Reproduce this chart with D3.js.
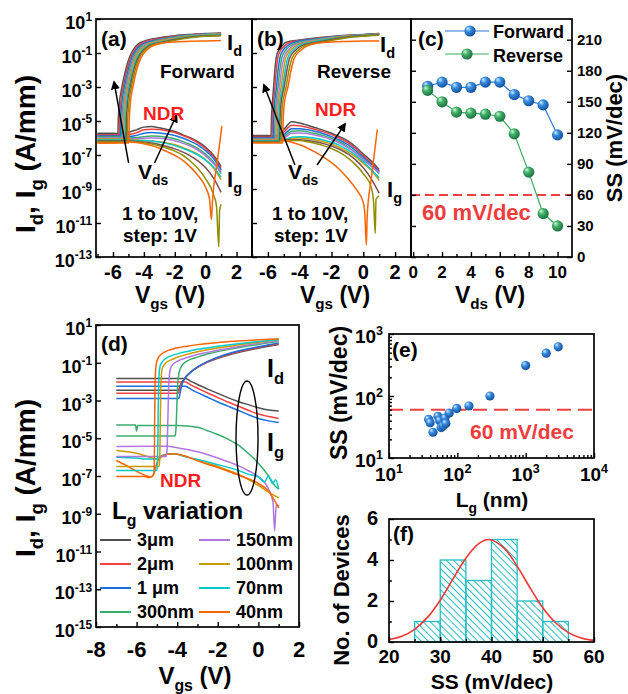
<!DOCTYPE html>
<html><head><meta charset="utf-8">
<script src="https://cdn.jsdelivr.net/npm/d3@7"></script>
<style>
body{margin:0;background:#fff}
text{font-family:"Liberation Sans",Arial,sans-serif;font-weight:bold}
</style></head><body>
<svg id="fig" width="628" height="694"></svg>
<script>
// ---------------- DATA ----------------
const palette = ["#505050","#F14040","#1A6FDF","#37AD6B","#B177DE","#CC9900","#00CBCC","#7D4E4E","#8E8E00","#FB6501"];
const vgsGrid = [-7,-6.5,-6,-5.5,-5,-4.5,-4,-3.5,-3,-2.5,-2,-1.5,-1,-0.5,0,0.5,1];

// (a) forward sweep, log10(Id) vs Vgs, one curve per Vds
const fwdId = [
 [[-7,-5.75],[-5.68,-5.75],[-5.66,-5],[-5.59,-4],[-5.42,-3],[-5.18,-2],[-4.95,-1.3],[-4.71,-0.85],[-4.46,-0.55],[-4.21,-0.38],[-3,-0.1],[-2,0.02],[-1,0.09],[0,0.14],[1,0.17]],
 [[-7,-5.82],[-5.6,-5.82],[-5.58,-5],[-5.51,-4],[-5.34,-3],[-5.10,-2],[-4.87,-1.3],[-4.61,-0.85],[-4.34,-0.55],[-4.01,-0.38],[-3,-0.15],[-2,-0.01],[-1,0.08],[0,0.13],[1,0.16]],
 [[-7,-5.88],[-5.52,-5.88],[-5.5,-5],[-5.43,-4],[-5.26,-3],[-5.02,-2],[-4.78,-1.3],[-4.52,-0.85],[-4.21,-0.55],[-3.82,-0.38],[-3,-0.2],[-2,-0.04],[-1,0.06],[0,0.12],[1,0.15]],
 [[-7,-5.94],[-5.44,-5.94],[-5.42,-5],[-5.35,-4],[-5.18,-3],[-4.94,-2],[-4.70,-1.3],[-4.42,-0.85],[-4.09,-0.55],[-3.62,-0.38],[-3,-0.24],[-2,-0.07],[-1,0.04],[0,0.1],[1,0.14]],
 [[-7,-6.0],[-5.37,-6.0],[-5.35,-5],[-5.28,-4],[-5.11,-3],[-4.87,-2],[-4.62,-1.3],[-4.33,-0.85],[-3.97,-0.55],[-3.43,-0.38],[-3,-0.28],[-2,-0.1],[-1,0.02],[0,0.08],[1,0.12]],
 [[-7,-6.06],[-5.3,-6.06],[-5.28,-5],[-5.21,-4],[-5.04,-3],[-4.80,-2],[-4.55,-1.3],[-4.25,-0.85],[-3.86,-0.55],[-3.25,-0.38],[-2,-0.13],[-1,0],[0,0.06],[1,0.1]],
 [[-7,-6.12],[-5.22,-6.12],[-5.2,-5],[-5.13,-4],[-4.96,-3],[-4.72,-2],[-4.46,-1.3],[-4.15,-0.85],[-3.73,-0.55],[-3.05,-0.38],[-2,-0.17],[-1,-0.03],[0,0.04],[1,0.08]],
 [[-7,-6.18],[-5.15,-6.18],[-5.13,-5],[-5.06,-4],[-4.89,-3],[-4.65,-2],[-4.39,-1.3],[-4.06,-0.85],[-3.62,-0.55],[-2.86,-0.38],[-2,-0.21],[-1,-0.06],[0,0.01],[1,0.05]],
 [[-7,-6.24],[-5.07,-6.24],[-5.05,-5],[-4.98,-4],[-4.81,-3],[-4.57,-2],[-4.30,-1.3],[-3.97,-0.85],[-3.49,-0.55],[-2.67,-0.38],[-2,-0.25],[-1,-0.1],[0,-0.02],[1,0.02]],
 [[-7,-6.3],[-4.97,-6.3],[-4.95,-5],[-4.88,-4],[-4.71,-3],[-4.47,-2],[-4.2,-1.3],[-3.85,-0.85],[-3.35,-0.55],[-2.45,-0.38],[-2,-0.35],[-1,-0.31],[0,-0.29],[1,-0.27]]
];
// (a) log10(Ig) read on vgsGrid
const fwdIg = [
 [-5.72,-5.72,-5.72,-5.74,-5.66,-5.52,-5.36,-5.33,-5.4,-5.5,-5.62,-5.8,-5.98,-6.22,-6.55,-7.0,-7.68],
 [-5.8,-5.8,-5.8,-5.82,-5.8,-5.7,-5.52,-5.48,-5.5,-5.58,-5.68,-5.85,-6.03,-6.28,-6.62,-7.08,-7.8],
 [-5.86,-5.86,-5.87,-5.88,-5.9,-5.85,-5.72,-5.68,-5.7,-5.76,-5.85,-6.0,-6.18,-6.42,-6.75,-7.2,-7.9],
 [-5.92,-5.92,-5.93,-5.95,-5.98,-5.98,-5.92,-5.88,-5.9,-5.96,-6.05,-6.2,-6.38,-6.62,-6.95,-7.4,-8.1],
 [-5.98,-5.98,-5.99,-6.0,-6.03,-6.05,-6.02,-6.0,-6.02,-6.08,-6.16,-6.3,-6.48,-6.72,-7.05,-7.5,-8.0],
 [-6.05,-6.05,-6.05,-6.06,-6.08,-6.12,-6.15,-6.18,-6.22,-6.3,-6.4,-6.55,-6.73,-6.96,-7.28,-7.75,-8.45],
 [-6.1,-6.1,-6.1,-6.1,-6.12,-6.15,-6.15,-6.18,-6.24,-6.33,-6.45,-6.6,-6.78,-7.0,-7.3,-7.7,-8.3],
 [-6.14,-6.14,-6.14,-6.14,-6.16,-6.2,-6.24,-6.3,-6.38,-6.5,-6.64,-6.82,-7.05,-7.35,-7.75,-8.35,-9.2],
 [-6.2,-6.2,-6.2,-6.2,-6.2,-6.24,-6.28,-6.36,-6.46,-6.6,-6.77,-7.0,-7.35,-7.8,-8.4,-9.3],
 [-6.3,-6.3,-6.28,-6.25,-6.22,-6.26,-6.34,-6.45,-6.6,-6.8,-7.02,-7.3,-7.7,-8.2,-8.9]
];
const fwdIgTailOlive = [[0.7,-10.0],[0.85,-12.4],[0.9,-10.3],[1,-9.9]];
const fwdIgTailOrange = [[0.25,-9.6],[0.37,-10.8],[0.45,-9.6],[0.75,-7.4],[1.05,-5.3]];

// (b) reverse sweep
const revId = [
 [[-7,-5.9],[-5.8,-5.9],[-5.78,-5],[-5.72,-4],[-5.64,-3],[-5.56,-2],[-5.48,-1.3],[-5.33,-0.85],[-5.08,-0.55],[-4.88,-0.38],[-4,-0.24],[-3,-0.12],[-2,-0.03],[-1,0.04],[0,0.09],[1,0.14]],
 [[-7,-5.95],[-5.74,-5.95],[-5.72,-5],[-5.66,-4],[-5.56,-3],[-5.47,-2],[-5.38,-1.3],[-5.20,-0.85],[-4.92,-0.55],[-4.63,-0.38],[-4,-0.27],[-3,-0.14],[-2,-0.05],[-1,0.03],[0,0.08],[1,0.14]],
 [[-7,-6.0],[-5.66,-6.0],[-5.64,-5],[-5.58,-4],[-5.46,-3],[-5.36,-2],[-5.25,-1.3],[-5.05,-0.85],[-4.74,-0.55],[-4.36,-0.38],[-3,-0.17],[-2,-0.06],[-1,0.02],[0,0.07],[1,0.13]],
 [[-7,-6.04],[-5.58,-6.04],[-5.56,-5],[-5.50,-4],[-5.37,-3],[-5.25,-2],[-5.13,-1.3],[-4.89,-0.85],[-4.56,-0.55],[-4.09,-0.38],[-3,-0.21],[-2,-0.08],[-1,0.01],[0,0.06],[1,0.12]],
 [[-7,-6.08],[-5.5,-6.08],[-5.48,-5],[-5.42,-4],[-5.27,-3],[-5.14,-2],[-5.00,-1.3],[-4.74,-0.85],[-4.38,-0.55],[-3.82,-0.38],[-3,-0.25],[-2,-0.1],[-1,0],[0,0.05],[1,0.11]],
 [[-7,-6.12],[-5.42,-6.12],[-5.40,-5],[-5.34,-4],[-5.17,-3],[-5.02,-2],[-4.88,-1.3],[-4.59,-0.85],[-4.20,-0.55],[-3.56,-0.38],[-3,-0.29],[-2,-0.13],[-1,-0.02],[0,0.04],[1,0.1]],
 [[-7,-6.16],[-5.34,-6.16],[-5.32,-5],[-5.26,-4],[-5.07,-3],[-4.91,-2],[-4.75,-1.3],[-4.44,-0.85],[-4.02,-0.55],[-3.29,-0.38],[-2,-0.16],[-1,-0.04],[0,0.03],[1,0.09]],
 [[-7,-6.2],[-5.26,-6.2],[-5.24,-5],[-5.18,-4],[-4.98,-3],[-4.80,-2],[-4.63,-1.3],[-4.28,-0.85],[-3.84,-0.55],[-3.02,-0.38],[-2,-0.2],[-1,-0.06],[0,0.01],[1,0.07]],
 [[-7,-6.25],[-5.16,-6.25],[-5.14,-5],[-5.08,-4],[-4.86,-3],[-4.67,-2],[-4.48,-1.3],[-4.11,-0.85],[-3.64,-0.55],[-2.73,-0.38],[-2,-0.26],[-1,-0.1],[0,-0.01],[1,0.05]],
 [[-7,-6.3],[-5.06,-6.3],[-5.04,-5],[-4.97,-4],[-4.74,-3],[-4.54,-2],[-4.34,-1.3],[-3.94,-0.85],[-3.44,-0.55],[-2.44,-0.38],[-2,-0.35],[-1,-0.32],[0,-0.3],[1,-0.29]]
];
const revIg = [
 [-5.85,-5.85,-5.86,-5.88,-5.5,-5.05,-5.12,-5.25,-5.4,-5.55,-5.72,-5.92,-6.15,-6.5,-6.95,-7.35,-7.85],
 [-5.9,-5.9,-5.91,-5.93,-5.65,-5.25,-5.28,-5.38,-5.5,-5.64,-5.8,-6.0,-6.25,-6.6,-7.05,-7.45,-7.95],
 [-5.95,-5.95,-5.96,-5.98,-5.8,-5.45,-5.45,-5.52,-5.62,-5.75,-5.92,-6.12,-6.38,-6.72,-7.15,-7.55,-8.0],
 [-6.0,-6.0,-6.0,-6.02,-5.92,-5.6,-5.58,-5.64,-5.74,-5.86,-6.02,-6.22,-6.5,-6.85,-7.25,-7.65,-8.1],
 [-6.02,-6.02,-6.03,-6.05,-6.0,-5.72,-5.7,-5.75,-5.84,-5.95,-6.1,-6.3,-6.55,-6.88,-7.3,-7.65,-8.05],
 [-6.05,-6.05,-6.06,-6.08,-6.08,-6.0,-6.0,-6.05,-6.12,-6.22,-6.35,-6.55,-6.8,-7.1,-7.5,-7.9,-8.5],
 [-6.08,-6.08,-6.09,-6.1,-6.1,-5.95,-5.92,-5.96,-6.02,-6.12,-6.25,-6.43,-6.68,-7.0,-7.4,-7.85,-8.35],
 [-6.1,-6.1,-6.11,-6.12,-6.12,-6.1,-6.1,-6.15,-6.22,-6.33,-6.47,-6.66,-6.92,-7.27,-7.75,-8.4,-9.25],
 [-6.12,-6.12,-6.13,-6.14,-6.14,-6.14,-6.15,-6.22,-6.32,-6.45,-6.62,-6.85,-7.15,-7.55,-8.1,-8.9],
 [-6.0,-6.02,-6.05,-6.1,-6.15,-6.25,-6.4,-6.6,-6.85,-7.12,-7.45,-7.85,-8.35,-8.95,-9.8]
];
const revIgTailOlive = [[0.65,-9.8],[0.75,-11.6],[0.8,-9.6],[1,-9.4]];
const revIgTailOrange = [[0.1,-10.5],[0.19,-12.3],[0.25,-10.5],[0.5,-8.4],[0.88,-5.5]];

// (c) SS vs Vds
const vdsValues = [1,2,3,4,5,6,7,8,9,10];
const ssForward = [165,169,164,164,169,169,157,151,147,118];
const ssReverse = [161,150,140,139,138,136,119,82,42,30];

// (d) Lg variation
const lgNames = ["3\u03bcm","2\u03bcm","1 \u03bcm","300nm","150nm","100nm","70nm","40nm"];
const lgColors = ["#505050","#F14040","#1A6FDF","#37AD6B","#B177DE","#CC9900","#00CBCC","#FB6501"];
const lgId = [
 [[-7,-2.46],[-3.95,-2.46],[-3.85,-2.2],[-3.72,-1.95],[-3.55,-1.72],[-3.3,-1.47],[-3,-1.25],[-2.5,-0.97],[-2,-0.76],[-1.5,-0.6],[-1,-0.46],[-0.5,-0.34],[0,-0.23],[0.5,-0.12],[1,-0.03]],
 [[-7,-2.61],[-3.95,-2.61],[-3.85,-2.3],[-3.72,-1.98],[-3.55,-1.72],[-3.3,-1.46],[-3,-1.23],[-2.5,-0.95],[-2,-0.73],[-1.5,-0.56],[-1,-0.42],[-0.5,-0.3],[0,-0.19],[0.5,-0.08],[1,0.01]],
 [[-7,-2.89],[-3.92,-2.89],[-3.85,-2.55],[-3.75,-2.1],[-3.6,-1.8],[-3.3,-1.47],[-3,-1.22],[-2.5,-0.93],[-2,-0.7],[-1.5,-0.52],[-1,-0.38],[-0.5,-0.26],[0,-0.15],[0.5,-0.05],[1,0.05]],
 [[-7,-4.88],[-4.1,-4.88],[-4.06,-4.5],[-4.02,-3.4],[-3.98,-2.2],[-3.9,-1.5],[-3.75,-1.12],[-3.5,-0.9],[-3,-0.7],[-2.5,-0.54],[-2,-0.41],[-1,-0.21],[0,-0.03],[1,0.12]],
 [[-7,-5.97],[-4.55,-5.97],[-4.5,-5.6],[-4.46,-4.0],[-4.42,-2.3],[-4.36,-1.45],[-4.25,-1.13],[-4,-0.93],[-3.5,-0.72],[-3,-0.56],[-2,-0.34],[-1,-0.15],[0,0.02],[1,0.16]],
 [[-7,-6.5],[-4.9,-6.5],[-4.86,-6.1],[-4.83,-4.0],[-4.8,-2.0],[-4.74,-1.3],[-4.6,-1.05],[-4.3,-0.85],[-4,-0.71],[-3.5,-0.55],[-3,-0.42],[-2,-0.22],[-1,-0.06],[0,0.09],[1,0.2]],
 [[-7,-6.71],[-5.0,-6.71],[-4.97,-6.3],[-4.94,-4.0],[-4.91,-2.0],[-4.85,-1.2],[-4.7,-0.9],[-4.4,-0.68],[-4,-0.53],[-3.5,-0.4],[-3,-0.29],[-2,-0.13],[-1,0.01],[0,0.13],[1,0.23]],
 [[-7,-7.03],[-5.6,-7.03],[-5.4,-7.08],[-5.2,-7.0],[-5.13,-6.6],[-5.11,-4.0],[-5.09,-2.0],[-5.03,-1.05],[-4.9,-0.68],[-4.6,-0.42],[-4.2,-0.27],[-3.5,-0.12],[-3,-0.04],[-2,0.07],[-1,0.15],[0,0.22],[1,0.27]]
];
const lgIg = [
 [[-7,-1.84],[-3.6,-1.84],[-3.3,-2.0],[-3,-2.15],[-2.5,-2.4],[-2,-2.62],[-1.5,-2.85],[-1,-3.05],[-0.5,-3.22],[0,-3.38],[0.5,-3.5],[1,-3.55]],
 [[-7,-2.02],[-3.6,-2.02],[-3.3,-2.2],[-3,-2.35],[-2.5,-2.6],[-2,-2.85],[-1.5,-3.08],[-1,-3.3],[-0.5,-3.52],[0,-3.72],[0.5,-3.85],[1,-3.95]],
 [[-7,-2.25],[-3.6,-2.25],[-3.3,-2.42],[-3,-2.58],[-2.5,-2.83],[-2,-3.08],[-1.5,-3.3],[-1,-3.52],[-0.5,-3.75],[0,-3.95],[0.5,-4.08],[1,-4.16]],
 [[-7,-4.3],[-6.05,-4.3],[-6.0,-4.62],[-5.95,-4.32],[-4,-4.32],[-3,-4.42],[-2.5,-4.6],[-2,-4.8],[-1.5,-5.05],[-1,-5.35],[-0.5,-5.8],[0,-6.32],[0.5,-7.0],[0.8,-7.5],[1,-7.7]],
 [[-7,-5.44],[-4.5,-5.42],[-4,-5.5],[-3.5,-5.6],[-3,-5.72],[-2,-6.05],[-1,-6.45],[-0.5,-6.72],[0,-7.03],[0.5,-7.7],[0.72,-8.4],[0.8,-9.9],[0.88,-8.5],[1,-8.6]],
 [[-7,-5.65],[-6,-5.8],[-5.5,-5.95],[-5,-6.1],[-4.8,-6.0],[-4.5,-5.85],[-4.2,-5.82],[-3.5,-6.0],[-3,-6.15],[-2,-6.5],[-1,-6.9],[0,-7.5],[0.5,-7.85],[1,-8.15]],
 [[-7,-6.0],[-6,-6.05],[-5.5,-6.1],[-5,-6.1],[-4.8,-5.95],[-4.5,-5.85],[-4.2,-5.82],[-3.5,-6.0],[-3,-6.12],[-2,-6.4],[-1,-6.7],[-0.5,-6.9],[0,-7.05],[0.3,-7.3],[0.5,-7.0],[0.7,-7.4],[0.85,-7.2],[1,-7.7]],
 [[-7,-6.18],[-6.5,-6.45],[-6,-6.75],[-5.5,-7.0],[-5.3,-7.05],[-5.15,-6.9],[-5.0,-6.3],[-4.8,-6.0],[-4.5,-5.85],[-4.2,-5.82],[-3.5,-5.98],[-3,-6.2],[-2,-6.55],[-1,-6.95],[0,-7.4],[0.5,-7.8],[0.8,-8.3],[1,-8.7]]
];

// (e) SS vs Lg
const lgNm = [38,40,44,52,55,58,62,66,68,76,98,148,300,1000,2000,3000];
const ssScatter = [42,37,26,47,40,31,33,44,36,53,63,69,100,310,490,620];

// (f) histogram
const binStart = [25,30,35,40,45,50];
const binCount = [1,4,3,5,2,1];
const fitSS = [20,22.5,25,27.5,30,32.5,35,37.5,39.5,42.5,45,47.5,50,52.5,55,57.5,60];
const fitCount = [0.12,0.28,0.62,1.2,2.04,3.08,4.09,4.8,5.0,4.57,3.7,2.65,1.67,0.94,0.46,0.2,0.08];

// tick values
const expTicksA = [1,-1,-3,-5,-7,-9,-11,-13];
const expTicksD = [1,-1,-3,-5,-7,-9,-11,-13,-15];
const vgsTicksAB = [-6,-4,-2,0,2];
const vgsMinorAB = [-7,-5,-3,-1,1];
const vdsTicks = [0,2,4,6,8,10];
const ssTicksC = [0,30,60,90,120,150,180,210];
const vgsTicksD = [-8,-6,-4,-2,0,2];

// ---------------- DRAW ----------------
const svg = d3.select("#fig");
const defs = svg.append("defs");

function grad(id, c0, c1, c2){
  const g = defs.append("radialGradient").attr("id",id).attr("cx","40%").attr("cy","38%").attr("r","62%").attr("fx","32%").attr("fy","28%");
  g.append("stop").attr("offset","0%").attr("stop-color",c0);
  g.append("stop").attr("offset","40%").attr("stop-color",c1);
  g.append("stop").attr("offset","100%").attr("stop-color",c2);
}
grad("gBlue","#d4ebff","#3a8ee0","#11509e");
grad("gGreen","#d6f5de","#43b46a","#1c7040");

const hatch = defs.append("pattern").attr("id","hatch").attr("patternUnits","userSpaceOnUse")
  .attr("width",5).attr("height",5).attr("patternTransform","rotate(45)");
hatch.append("line").attr("x1",0).attr("y1",0.5).attr("x2",5).attr("y2",0.5).attr("stroke","#22bfc2").attr("stroke-width",1);

const mk = defs.append("marker").attr("id","arr").attr("viewBox","0 0 10 10").attr("refX",8).attr("refY",5)
  .attr("markerWidth",6).attr("markerHeight",6).attr("orient","auto-start-reverse");
mk.append("path").attr("d","M0,0 L10,5 L0,10 z").attr("fill","#000");

function rich(parent, x, y, str, size, opt){
  opt = opt || {};
  const t = parent.append("text").attr("font-size",size).attr("text-anchor",opt.anchor||"start").attr("fill",opt.fill||"#000");
  if (opt.rotate !== undefined) t.attr("transform",`translate(${x},${y}) rotate(${opt.rotate})`);
  else t.attr("x",x).attr("y",y);
  const re = /([_^])\{([^}]*)\}|([^_^]+)/g; let m; let shift = 0;
  while ((m = re.exec(str))) {
    if (m[3] !== undefined) {
      const ts = t.append("tspan").text(m[3]);
      if (shift) { ts.attr("dy", -shift); shift = 0; }
    } else {
      const d = m[1] === "_" ? size*0.28 : -size*0.42;
      t.append("tspan").text(m[2]).attr("font-size", size*0.66).attr("dy", d - shift);
      shift = d;
    }
  }
  return t;
}

function clip(id, x0,y0,x1,y1){
  defs.append("clipPath").attr("id",id).append("rect").attr("x",x0).attr("y",y0).attr("width",x1-x0).attr("height",y1-y0);
}
function frame(x0,y0,x1,y1){
  svg.append("rect").attr("x",x0).attr("y",y0).attr("width",x1-x0).attr("height",y1-y0)
    .attr("fill","none").attr("stroke","#000").attr("stroke-width",1.7);
}
function styleAxis(g){ g.select(".domain").remove(); g.selectAll("line").attr("stroke","#000").attr("stroke-width",1.4); }
function tB(scale, y, vals, len){ svg.append("g").attr("transform",`translate(0,${y})`).call(d3.axisBottom(scale).tickValues(vals).tickSize(-len).tickFormat("")).call(styleAxis); }
function tL(scale, x, vals, len){ svg.append("g").attr("transform",`translate(${x},0)`).call(d3.axisLeft(scale).tickValues(vals).tickSize(-len).tickFormat("")).call(styleAxis); }
function tR(scale, x, vals, len){ svg.append("g").attr("transform",`translate(${x},0)`).call(d3.axisRight(scale).tickValues(vals).tickSize(-len).tickFormat("")).call(styleAxis); }

const xA = d3.scaleLinear().domain([-7.1,3]).range([96,252]);
const yA = d3.scaleLog().domain([1e-13,10]).range([257,19]);
const xB = d3.scaleLinear().domain([-7,3]).range([252,411]);
const yB = yA.copy();
const xC = d3.scaleLinear().domain([-0.15,11]).range([411,572]);
const yC = d3.scaleLinear().domain([0,230]).range([257,19]);
const xD = d3.scaleLinear().domain([-8,2]).range([96,299]);
const yD = d3.scaleLog().domain([1e-15,10]).range([627,325]);
const xE = d3.scaleLog().domain([10,1e4]).range([389,594]);
const yE = d3.scaleLog().domain([10,1e3]).range([458,334]);
const xF = d3.scaleLinear().domain([20,60]).range([389,594]);
const yF = d3.scaleLinear().domain([0,6]).range([642,519]);

clip("cA",96,19,252,257); clip("cB",252,19,411,257); clip("cD",96,325,299,627);

function logLine(x,y){ return d3.line().x(d=>x(d[0])).y(d=>y(Math.pow(10,d[1]))).curve(d3.curveMonotoneX); }
function zipGrid(vals, tail){ const p = vals.map((v,i)=>[vgsGrid[i],v]); return tail ? p.concat(tail) : p; }

// ---- (a) and (b) ----
function drawTransfer(cid, x, y, ids, igs, tailOlive, tailOrange){
  const g = svg.append("g").attr("clip-path",`url(#${cid})`);
  const ln = logLine(x,y);
  igs.forEach((vals,i)=>{
    const tail = i===8 ? tailOlive : (i===9 ? tailOrange : null);
    g.append("path").attr("d", ln(zipGrid(vals, tail))).attr("fill","none").attr("stroke",palette[i]).attr("stroke-width",1.5);
  });
  ids.forEach((pts,i)=>{
    g.append("path").attr("d", ln(pts)).attr("fill","none").attr("stroke",palette[i]).attr("stroke-width",1.5);
  });
}
drawTransfer("cA", xA, yA, fwdId, fwdIg, fwdIgTailOlive, fwdIgTailOrange);
drawTransfer("cB", xB, yB, revId, revIg, revIgTailOlive, revIgTailOrange);

// ticks (a),(b)
tL(yA, 96, expTicksA.map(e=>Math.pow(10,e)), 5);
tB(xA, 257, vgsTicksAB, 5); tB(xA, 257, vgsMinorAB, 3);
tL(yB, 252, expTicksA.map(e=>Math.pow(10,e)), 5);
tB(xB, 257, vgsTicksAB, 5); tB(xB, 257, vgsMinorAB, 3);
expTicksA.forEach(e=> rich(svg, 92, yA(Math.pow(10,e))+10, `10^{${e}}`, 18, {anchor:"end"}));
vgsTicksAB.forEach(v=> rich(svg, xA(v), 279, String(v), 20, {anchor:"middle"}));
vgsTicksAB.forEach(v=> rich(svg, xB(v), 279, String(v), 20, {anchor:"middle"}));

// annotations
function arrow(x,y,v0,e0,v1,e1){
  svg.append("line").attr("x1",x(v0)).attr("y1",y(Math.pow(10,e0))).attr("x2",x(v1)).attr("y2",y(Math.pow(10,e1)))
    .attr("stroke","#000").attr("stroke-width",1.5).attr("marker-end","url(#arr)");
}
arrow(xA,yA,-4.99,-7.47,-5.93,-2.71);
arrow(xA,yA,-3.31,-7.47,-1.89,-4.65);
arrow(xB,yB,-4.30,-7.59,-6.25,-2.88);
arrow(xB,yB,-2.91,-7.59,-1.15,-5.18);

rich(svg, 101, 46, "(a)", 21);
rich(svg, 227, 50, "I_{d}", 22);
rich(svg, 160, 78, "Forward", 19);
rich(svg, 143, 120, "NDR", 19, {fill:"#ff1e1e"});
rich(svg, 138, 179, "V_{ds}", 21);
rich(svg, 122, 220, "1 to 10V,", 19);
rich(svg, 123, 242, "step: 1V", 19);
rich(svg, 227, 187, "I_{g}", 22);

rich(svg, 257, 46, "(b)", 21);
rich(svg, 380, 52, "I_{d}", 22);
rich(svg, 317, 78, "Reverse", 19);
rich(svg, 315, 116, "NDR", 19, {fill:"#ff1e1e"});
rich(svg, 288, 179, "V_{ds}", 21);
rich(svg, 272, 220, "1 to 10V,", 19);
rich(svg, 274, 242, "step: 1V", 19);
rich(svg, 387, 197, "I_{g}", 22);

rich(svg, 35, 154, "I_{d}, I_{g} (A/mm)", 28, {anchor:"middle", rotate:-90});
rich(svg, 170, 303, "V_{gs} (V)", 23, {anchor:"middle"});
rich(svg, 335, 303, "V_{gs} (V)", 23, {anchor:"middle"});

// ---- (c) ----
svg.append("line").attr("x1",xC(-0.15)).attr("x2",xC(11)).attr("y1",yC(60)).attr("y2",yC(60))
  .attr("stroke","#f04040").attr("stroke-width",2).attr("stroke-dasharray","9,5");
const lineC = d3.line().x((d,i)=>xC(vdsValues[i])).y(d=>yC(d));
svg.append("path").attr("d",lineC(ssForward)).attr("fill","none").attr("stroke","#2a7ad8").attr("stroke-width",1.2);
svg.append("path").attr("d",lineC(ssReverse)).attr("fill","none").attr("stroke","#3aaa5e").attr("stroke-width",1.2);
svg.selectAll(".mf").data(ssForward).enter().append("circle").attr("cx",(d,i)=>xC(vdsValues[i])).attr("cy",d=>yC(d)).attr("r",5.6).attr("fill","url(#gBlue)");
svg.selectAll(".mr").data(ssReverse).enter().append("circle").attr("cx",(d,i)=>xC(vdsValues[i])).attr("cy",d=>yC(d)).attr("r",5.6).attr("fill","url(#gGreen)");
tB(xC, 257, vdsTicks, 5); tB(xC, 257, [1,3,5,7,9], 3);
tR(yC, 572, ssTicksC, 5); tL(yC, 411, ssTicksC, 5);
vdsTicks.forEach(v=> rich(svg, xC(v), 278, String(v), 17, {anchor:"middle"}));
ssTicksC.forEach(v=> rich(svg, 577, yC(v)+5, String(v), 15));
svg.append("line").attr("x1",445).attr("x2",489).attr("y1",31).attr("y2",31).attr("stroke","#2a7ad8").attr("stroke-width",1.2);
svg.append("circle").attr("cx",470).attr("cy",31).attr("r",5.6).attr("fill","url(#gBlue)");
svg.append("line").attr("x1",445).attr("x2",489).attr("y1",54).attr("y2",54).attr("stroke","#3aaa5e").attr("stroke-width",1.2);
svg.append("circle").attr("cx",467).attr("cy",54).attr("r",5.6).attr("fill","url(#gGreen)");
rich(svg, 493, 38, "Forward", 18);
rich(svg, 493, 62, "Reverse", 18);
rich(svg, 418, 46, "(c)", 21);
rich(svg, 422, 220, "60 mV/dec", 22, {fill:"#f03c3c"});
rich(svg, 622, 138, "SS (mV/dec)", 22, {anchor:"middle", rotate:-90});
rich(svg, 490, 303, "V_{ds} (V)", 23, {anchor:"middle"});

// ---- (d) ----
const gD = svg.append("g").attr("clip-path","url(#cD)");
const lnD = logLine(xD,yD);
lgIg.forEach((pts,i)=> gD.append("path").attr("d",lnD(pts)).attr("fill","none").attr("stroke",lgColors[i]).attr("stroke-width",1.5));
lgId.forEach((pts,i)=> gD.append("path").attr("d",lnD(pts)).attr("fill","none").attr("stroke",lgColors[i]).attr("stroke-width",1.5));
tL(yD, 96, expTicksD.map(e=>Math.pow(10,e)), 5);
tB(xD, 627, vgsTicksD, 5); tB(xD, 627, [-7,-5,-3,-1,1], 3);
expTicksD.forEach(e=> rich(svg, 92, yD(Math.pow(10,e))+10, `10^{${e}}`, 18, {anchor:"end"}));
vgsTicksD.forEach(v=> rich(svg, xD(v), 657, String(v), 22, {anchor:"middle"}));
svg.append("ellipse").attr("cx",xD(-0.56)).attr("cy",yD(Math.pow(10,-4.99))).attr("rx",11).attr("ry",57)
  .attr("fill","none").attr("stroke","#000").attr("stroke-width",1.4);
rich(svg, 101, 351, "(d)", 21);
rich(svg, 267, 377, "I_{d}", 25);
rich(svg, 267, 451, "I_{g}", 25);
rich(svg, 160, 487, "NDR", 19, {fill:"#ff1e1e"});
rich(svg, 112, 519, "L_{g} variation", 24);
lgNames.forEach((n,i)=>{
  const col = i<4 ? 0 : 1, row = i%4;
  const lx = col===0 ? 100 : 199, ty = 540 + row*24;
  svg.append("line").attr("x1",lx).attr("x2",lx+31).attr("y1",ty).attr("y2",ty).attr("stroke",lgColors[i]).attr("stroke-width",2);
  rich(svg, lx+37, ty+6, n, 18);
});
rich(svg, 35, 478, "I_{d}, I_{g} (A/mm)", 28, {anchor:"middle", rotate:-90});
rich(svg, 195, 684, "V_{gs} (V)", 24, {anchor:"middle"});

// ---- (e) ----
svg.append("line").attr("x1",xE(10)).attr("x2",xE(1e4)).attr("y1",yE(60)).attr("y2",yE(60))
  .attr("stroke","#f04040").attr("stroke-width",2).attr("stroke-dasharray","14,7");
svg.selectAll(".me").data(ssScatter).enter().append("circle").attr("cx",(d,i)=>xE(lgNm[i])).attr("cy",d=>yE(d)).attr("r",4.6).attr("fill","url(#gBlue)");
const minorE = [];
[10,100,1000].forEach(b=>{ for(let k=2;k<10;k++) minorE.push(b*k); });
tB(xE, 458, [10,100,1000,10000], 5); tB(xE, 458, minorE, 3);
tL(yE, 389, [10,100,1000], 5); tL(yE, 389, minorE.filter(v=>v<1000), 3);
[1,2,3,4].forEach(e=> rich(svg, xE(Math.pow(10,e)), 481, `10^{${e}}`, 19, {anchor:"middle"}));
[1,2,3].forEach(e=> rich(svg, 383, yE(Math.pow(10,e))+9, `10^{${e}}`, 19, {anchor:"end"}));
rich(svg, 392, 357, "(e)", 21);
rich(svg, 470, 439, "60 mV/dec", 21, {fill:"#f03c3c"});
rich(svg, 347, 393, "SS (mV/dec)", 23, {anchor:"middle", rotate:-90});
rich(svg, 492, 507, "L_{g} (nm)", 21, {anchor:"middle"});

// ---- (f) ----
svg.selectAll(".bar").data(binCount).enter().append("rect")
  .attr("x",(d,i)=>xF(binStart[i])).attr("width",(d,i)=>xF(binStart[i]+5)-xF(binStart[i]))
  .attr("y",d=>yF(d)).attr("height",d=>yF(0)-yF(d))
  .attr("fill","url(#hatch)").attr("stroke","#22bfc2").attr("stroke-width",1.3);
svg.append("path").attr("d", d3.line().x((d,i)=>xF(fitSS[i])).y(d=>yF(d)).curve(d3.curveCatmullRom)(fitCount))
  .attr("fill","none").attr("stroke","#ef3535").attr("stroke-width",1.6);
tB(xF, 642, [20,30,40,50,60], 5); tB(xF, 642, [25,35,45,55], 3);
tL(yF, 389, [0,2,4,6], 5); tL(yF, 389, [1,3,5], 3);
[20,30,40,50,60].forEach(v=> rich(svg, xF(v), 663, String(v), 19, {anchor:"middle"}));
[0,2,4,6].forEach(v=> rich(svg, 378, yF(v)+6, String(v), 20, {anchor:"end"}));
rich(svg, 393, 541, "(f)", 21);
rich(svg, 349, 590, "No. of Devices", 22, {anchor:"middle", rotate:-90});
rich(svg, 492, 689, "SS (mV/dec)", 21, {anchor:"middle"});

// frames on top
frame(96,19,252,257); frame(252,19,411,257); frame(411,19,572,257);
frame(96,325,299,627); frame(389,334,594,458); frame(389,519,594,642);
</script>
</body></html>
